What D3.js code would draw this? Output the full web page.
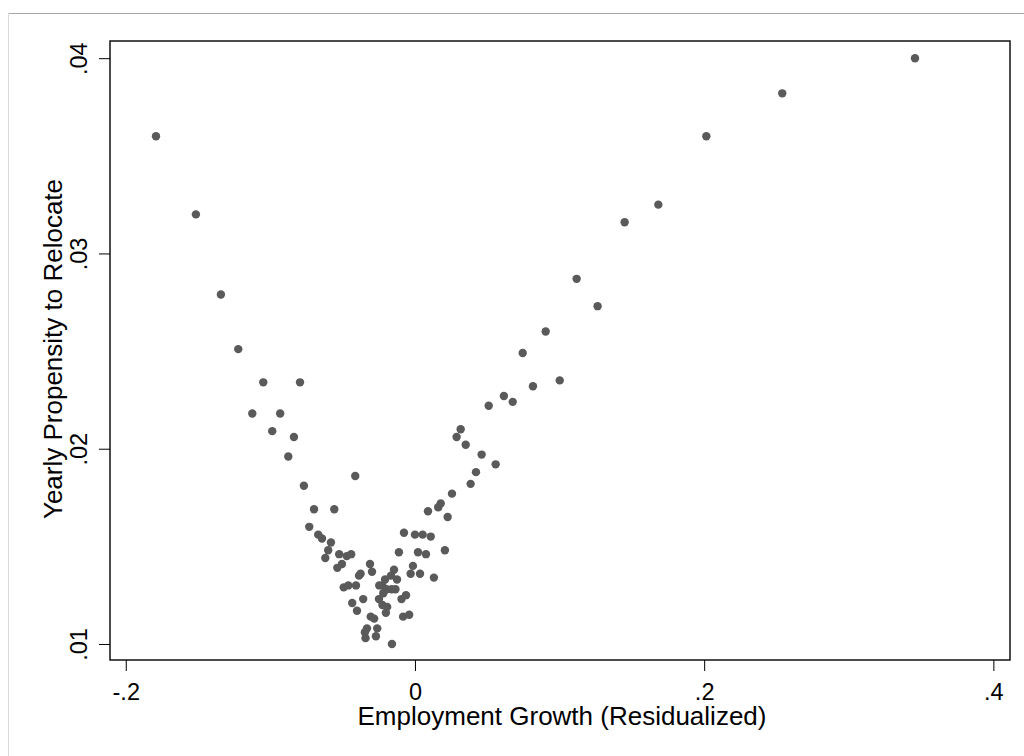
<!DOCTYPE html>
<html>
<head>
<meta charset="utf-8">
<script src="https://cdn.jsdelivr.net/npm/d3@7"></script>
<style>
  html, body { margin: 0; padding: 0; background: #fff; }
  svg { display: block; }
  text { font-family: "Liberation Sans", Arial, sans-serif; fill: #000; }
</style>
</head>
<body>
<svg id="chart" width="1024" height="756"></svg>
<script>
// Employment growth (residualized) — x values
const growth = [
  -0.1791, -0.1515, -0.1342, -0.1222, -0.1049, -0.0795, -0.1125, -0.0932, -0.0987, -0.0837,
  -0.0876, -0.0413, -0.0768, -0.0698, -0.0558, -0.0731, -0.0669, -0.0643, -0.0581, -0.0600,
  -0.0620, -0.0524, -0.0472, -0.0441, -0.0505, -0.0537, -0.0311, -0.0297, -0.0376, -0.0387,
  -0.0493, -0.0461, -0.0408, -0.0145, -0.0166, -0.0207, -0.0124, -0.0226, -0.0247, -0.0196,
  -0.0161, -0.0135, -0.0219, -0.0249, -0.0062, -0.0093, -0.0358, -0.0434, -0.0401, -0.0225,
  -0.0192, -0.0201, -0.0040, -0.0082, -0.0306, -0.0282, -0.0332, -0.0346, -0.0342, -0.0261,
  -0.0270, -0.0159, -0.0111, -0.0076, 0.0000, 0.0053, 0.0109, 0.0021, 0.0076, 0.0207,
  -0.0014, -0.0030, 0.0035, 0.0131, 0.0090, 0.0161, 0.0178, 0.0226, 0.0256, 0.0385,
  0.0422, 0.0461, 0.0558, 0.0316, 0.0288, 0.0351, 0.0510, 0.0615, 0.0676, 0.0816,
  0.0745, 0.1001, 0.0904, 0.1118, 0.1263, 0.1450, 0.1683, 0.2015, 0.2540, 0.3458
];
// Yearly propensity to relocate — y values
const relocate = [
  0.0360, 0.0320, 0.0279, 0.0251, 0.0234, 0.0234, 0.0218, 0.0218, 0.0209, 0.0206,
  0.0196, 0.0186, 0.0181, 0.0169, 0.0169, 0.0160, 0.0156, 0.0154, 0.0152, 0.0148,
  0.0144, 0.0146, 0.0145, 0.0146, 0.0141, 0.0139, 0.0141, 0.0137, 0.0136, 0.0135,
  0.0129, 0.0130, 0.0130, 0.0138, 0.0135, 0.0133, 0.0133, 0.0130, 0.0130, 0.0128,
  0.0128, 0.0128, 0.0126, 0.0123, 0.0125, 0.0123, 0.0123, 0.0121, 0.0117, 0.0120,
  0.0119, 0.0116, 0.0115, 0.0114, 0.0114, 0.0113, 0.0108, 0.0106, 0.0103, 0.0108,
  0.0104, 0.0100, 0.0147, 0.0157, 0.0156, 0.0156, 0.0155, 0.0147, 0.0146, 0.0148,
  0.0140, 0.0136, 0.0136, 0.0134, 0.0168, 0.0170, 0.0172, 0.0165, 0.0177, 0.0182,
  0.0188, 0.0197, 0.0192, 0.0210, 0.0206, 0.0202, 0.0222, 0.0227, 0.0224, 0.0232,
  0.0249, 0.0235, 0.0260, 0.0287, 0.0273, 0.0316, 0.0325, 0.0360, 0.0382, 0.0400
];
const xTicks = [-0.2, 0, 0.2, 0.4];
const xTickLabels = ["-.2", "0", ".2", ".4"];
const yTicks = [0.01, 0.02, 0.03, 0.04];
const yTickLabels = [".01", ".02", ".03", ".04"];
const xTitle = "Employment Growth (Residualized)";
const yTitle = "Yearly Propensity to Relocate";

const svg = d3.select("#chart");
const plot = { left: 110, right: 1010, top: 41, bottom: 660 };

// outer frame
svg.append("line").attr("x1", 8).attr("x2", 1024).attr("y1", 13.5).attr("y2", 13.5)
  .attr("stroke", "#a6a6a6").attr("stroke-width", 1);
svg.append("line").attr("x1", 8.5).attr("x2", 8.5).attr("y1", 13).attr("y2", 756)
  .attr("stroke", "#d9d9d9").attr("stroke-width", 1);

const x = d3.scaleLinear().domain([-0.2109, 0.4115]).range([plot.left, plot.right]);
const y = d3.scaleLinear().domain([0.00918, 0.04088]).range([plot.bottom, plot.top]);

// points
const pts = growth.map((g, i) => ({ g, r: relocate[i] }));
svg.append("g").selectAll("circle").data(pts).join("circle")
  .attr("cx", d => x(d.g)).attr("cy", d => y(d.r)).attr("r", 4.2)
  .attr("fill", "#5a5a5a");

// plot region box
svg.append("rect")
  .attr("x", plot.left).attr("y", plot.top)
  .attr("width", plot.right - plot.left).attr("height", plot.bottom - plot.top)
  .attr("fill", "none").attr("stroke", "#000").attr("stroke-width", 1.4);

// x axis
const xAxis = d3.axisBottom(x).tickValues(xTicks)
  .tickFormat((d, i) => xTickLabels[i]).tickSize(11).tickPadding(12);
const gx = svg.append("g").attr("transform", `translate(0,${plot.bottom})`).call(xAxis);
gx.select(".domain").remove();
gx.selectAll(".tick line").attr("stroke", "#000").attr("stroke-width", 1);
gx.selectAll(".tick text").attr("font-size", 23.5).attr("font-family", "Liberation Sans, Arial, sans-serif").attr("fill", "#000");

// y axis
const yAxis = d3.axisLeft(y).tickValues(yTicks)
  .tickFormat((d, i) => yTickLabels[i]).tickSize(11).tickPadding(0);
const gy = svg.append("g").attr("transform", `translate(${plot.left},0)`).call(yAxis);
gy.select(".domain").remove();
gy.selectAll(".tick line").attr("stroke", "#000").attr("stroke-width", 1);
gy.selectAll(".tick text")
  .attr("font-size", 23.5).attr("font-family", "Liberation Sans, Arial, sans-serif").attr("fill", "#000")
  .attr("x", 0).attr("dy", 0)
  .attr("text-anchor", "middle")
  .attr("transform", "translate(-23,0) rotate(-90)");

// titles
svg.append("text").attr("x", 562).attr("y", 725)
  .attr("text-anchor", "middle").attr("font-size", 26).text(xTitle);
svg.append("text")
  .attr("transform", `translate(62,349) rotate(-90)`)
  .attr("text-anchor", "middle").attr("font-size", 26).text(yTitle);
</script>
</body>
</html>
